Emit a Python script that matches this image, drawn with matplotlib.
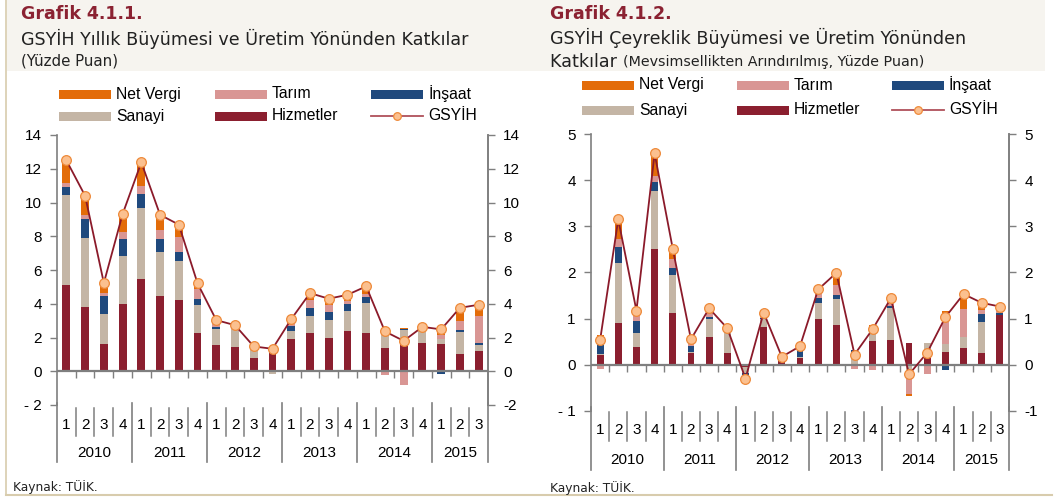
import matplotlib
matplotlib.use("Agg")
import matplotlib.pyplot as plt
import matplotlib.transforms as mtransforms
from matplotlib.patches import Rectangle
from matplotlib.lines import Line2D
import numpy as np

# ---------------- DATA ----------------
years = ["2010", "2011", "2012", "2013", "2014", "2015"]
quarters_per_year = [4, 4, 4, 4, 4, 3]
series_names = ["Hizmetler", "Sanayi", "İnşaat", "Tarım", "Net Vergi"]

# Grafik 4.1.1 (annual growth contributions)
hiz_L = [5.13, 3.78, 1.60, 3.96, 5.47, 4.46, 4.24, 2.26, 1.54, 1.41, 0.77, 1.09,
         1.94, 2.28, 2.00, 2.36, 2.26, 1.37, 1.62, 1.66, 1.60, 1.03, 1.19]
san_L = [5.29, 4.12, 1.79, 2.87, 4.19, 2.59, 2.27, 1.64, 0.94, 1.14, 0.46, -0.16,
         0.42, 0.99, 1.01, 1.24, 1.80, 0.89, 0.80, 0.95, 0.32, 1.31, 0.37]
ins_L = [0.51, 1.13, 1.09, 0.99, 0.87, 0.79, 0.56, 0.38, 0.13, 0.05, 0.03, 0.06,
         0.33, 0.47, 0.48, 0.40, 0.34, 0.22, 0.09, -0.06, -0.15, 0.10, 0.10]
tar_L = [0.24, 0.20, 0.13, 0.42, 0.44, 0.54, 0.89, 0.57, 0.26, 0.10, 0.24, 0.10,
         0.28, 0.46, 0.41, 0.16, 0.19, -0.22, -0.79, 0.05, 0.20, 0.53, 1.59]
nv_L = [1.40, 1.17, 0.68, 1.11, 1.49, 0.91, 0.79, 0.44, 0.22, 0.05, 0.07, 0.08,
        0.14, 0.47, 0.40, 0.43, 0.40, 0.06, 0.06, 0.05, 0.49, 0.67, 0.75]
gsyih_L = [12.50, 10.40, 5.23, 9.31, 12.38, 9.27, 8.69, 5.21, 3.03, 2.73, 1.47, 1.33,
           3.09, 4.63, 4.30, 4.53, 5.03, 2.36, 1.80, 2.63, 2.48, 3.76, 3.94]

# Grafik 4.1.2 (quarterly, seasonally adjusted)
hiz_R = [0.22, 0.90, 0.38, 2.51, 1.11, 0.26, 0.60, 0.26, -0.05, 0.82, 0.07, 0.14,
         1.00, 0.87, 0.02, 0.52, 0.53, 0.46, 0.26, 0.28, 0.37, 0.26, 1.08]
san_R = [0.02, 1.30, 0.31, 1.25, 0.83, 0.02, 0.40, 0.49, -0.12, 0.18, 0.04, 0.02,
         0.33, 0.55, 0.23, 0.20, 0.69, -0.25, 0.20, 0.16, 0.22, 0.66, -0.02]
ins_R = [0.28, 0.34, 0.26, 0.21, 0.15, 0.13, 0.03, 0.02, -0.07, 0.02, 0.03, 0.16,
         0.12, 0.10, 0.07, 0.05, 0.06, -0.05, 0.02, -0.12, 0.02, 0.17, 0.03]
tar_R = [-0.09, 0.19, 0.14, 0.13, 0.21, 0.12, 0.12, 0.06, -0.05, 0.05, 0.05, 0.06,
         0.11, 0.21, -0.10, -0.12, 0.12, -0.33, -0.20, 0.60, 0.60, 0.09, 0.11]
nv_R = [0.12, 0.41, 0.12, 0.50, 0.26, 0.03, 0.09, 0.00, 0.00, 0.10, 0.04, -0.03,
        0.11, 0.32, 0.00, 0.10, 0.04, -0.04, 0.00, 0.12, 0.36, 0.20, 0.04]
gsyih_R = [0.53, 3.15, 1.17, 4.58, 2.51, 0.55, 1.22, 0.79, -0.30, 1.13, 0.17, 0.40,
           1.63, 1.99, 0.22, 0.77, 1.44, -0.21, 0.26, 1.03, 1.53, 1.34, 1.26]

yticks_L = [-2, 0, 2, 4, 6, 8, 10, 12, 14]
yticks_R = [-1, 0, 1, 2, 3, 4, 5]

# ---------------- STYLE ----------------
C_HIZ = "#8b1f2f"
C_SAN = "#c4b5a5"
C_INS = "#1f497d"
C_TAR = "#d99694"
C_NV = "#e36c09"
C_LINE = "#8b1a2a"
C_GRID = "#7f7f7f"
TITLE_RED = "#8b2232"
colors = [C_HIZ, C_SAN, C_INS, C_TAR, C_NV]

W, H = 1056, 497
fig = plt.figure(figsize=(W / 100, H / 100), dpi=100)
fig.patch.set_facecolor("white")

TICKFONT = "Liberation Sans"
TITLEFONT = "DejaVu Sans"


def fx(px):
    return px / W


def fy(py):
    return 1 - py / H


# header and frame
fig.patches.append(Rectangle((fx(7), fy(71)), fx(1045) - fx(7), fy(0) - fy(71),
                             transform=fig.transFigure, facecolor="#f6f4ef",
                             edgecolor="none", zorder=0))
fig.lines.append(Line2D([fx(6), fx(6)], [fy(0), fy(495)], transform=fig.transFigure,
                        color="#d8ccad", lw=1.2))
fig.lines.append(Line2D([fx(6), fx(1052)], [fy(495), fy(495)], transform=fig.transFigure,
                        color="#d8ccad", lw=1.5))


def draw_panel(rect, series, gsyih, yticks, ylabels_left, ylabels_right, bar_w,
               qlab_y, year_y, sep_top, qsep_bot, ysep_bot):
    ax = fig.add_axes(rect)
    n = len(gsyih)
    x = np.arange(n)
    pos_bottom = np.zeros(n)
    neg_bottom = np.zeros(n)
    for vals, col in zip(series, colors):
        v = np.array(vals)
        pos = np.where(v > 0, v, 0)
        neg = np.where(v < 0, v, 0)
        ax.bar(x, pos, bottom=pos_bottom, width=bar_w, color=col, zorder=2, linewidth=0)
        ax.bar(x, neg, bottom=neg_bottom, width=bar_w, color=col, zorder=2, linewidth=0)
        pos_bottom += pos
        neg_bottom += neg
    ax.axhline(0, color=C_GRID, lw=1.6, zorder=3)
    ax.plot(x[:-1] + 0.5, np.zeros(n - 1), ls="none", marker=3, ms=5,
            color=C_GRID, mew=1.0, zorder=3)
    ax.plot(x, gsyih, color=C_LINE, lw=1.3, marker="o", ms=7,
            mfc="#fbc08f", mec="#ee8a3a", mew=0.9, zorder=5)

    ax.set_xlim(-0.5, n - 0.5)
    ax.set_ylim(yticks[0], yticks[-1])
    ax.set_xticks([])
    ax.set_yticks(yticks)
    ax.set_yticklabels(ylabels_left, fontfamily=TICKFONT, fontsize=11)
    ax.tick_params(axis="y", direction="out", length=5, width=1, color=C_GRID, pad=6)
    for s in ["top", "bottom"]:
        ax.spines[s].set_visible(False)
    for s in ["left", "right"]:
        ax.spines[s].set_color(C_GRID)
        ax.spines[s].set_linewidth(1.2)

    ax2 = ax.twinx()
    ax2.set_ylim(yticks[0], yticks[-1])
    ax2.set_yticks(yticks)
    ax2.set_yticklabels(ylabels_right, fontfamily=TICKFONT, fontsize=11)
    ax2.tick_params(axis="y", direction="out", length=5, width=1, color=C_GRID, pad=6)
    for s in ["top", "bottom", "left"]:
        ax2.spines[s].set_visible(False)
    ax2.spines["right"].set_color(C_GRID)
    ax2.spines["right"].set_linewidth(1.2)

    # category axis
    tr = mtransforms.blended_transform_factory(ax.transData, fig.transFigure)
    start = 0
    for yr, nq in zip(years, quarters_per_year):
        for q in range(nq):
            ax.text(start + q, fy(qlab_y), str(q + 1), transform=tr, ha="center",
                    va="center", fontsize=11, fontfamily=TICKFONT, clip_on=False)
            if q > 0:
                ax.add_line(Line2D([start + q - 0.5] * 2, [fy(sep_top), fy(qsep_bot)],
                                   transform=tr, color=C_GRID, lw=1.1, clip_on=False))
        ax.text(start + (nq - 1) / 2, fy(year_y), yr, transform=tr, ha="center",
                va="center", fontsize=11, fontfamily=TICKFONT, clip_on=False)
        ax.add_line(Line2D([start - 0.5] * 2, [fy(sep_top - 5), fy(ysep_bot)],
                           transform=tr, color=C_GRID, lw=1.2, clip_on=False))
        start += nq
    ax.add_line(Line2D([start - 0.5] * 2, [fy(sep_top - 5), fy(ysep_bot)],
                       transform=tr, color=C_GRID, lw=1.2, clip_on=False))
    return ax


def draw_legend(x_cols, y_rows, patch_w=52, patch_h=9):
    entries = [[("Net Vergi", C_NV), ("Tarım", C_TAR), ("İnşaat", C_INS)],
               [("Sanayi", C_SAN), ("Hizmetler", C_HIZ), ("GSYİH", None)]]
    for r, row in enumerate(entries):
        for c, (lab, col) in enumerate(row):
            x0 = x_cols[c]
            yc = y_rows[r]
            if col is not None:
                fig.patches.append(Rectangle((fx(x0), fy(yc + patch_h / 2)), fx(patch_w),
                                             patch_h / H, transform=fig.transFigure,
                                             facecolor=col, edgecolor="none"))
            else:
                fig.lines.append(Line2D([fx(x0), fx(x0 + patch_w)], [fy(yc), fy(yc)],
                                        transform=fig.transFigure, color="#b0505a", lw=1.3))
                fig.lines.append(Line2D([fx(x0 + patch_w / 2)], [fy(yc)],
                                        transform=fig.transFigure, ls="none", marker="o",
                                        ms=5.5, mfc="#fbc08f", mec="#ee8a3a", mew=0.9))
            fig.text(fx(x0 + patch_w + 5), fy(yc), lab, ha="left", va="center",
                     fontsize=11.3, fontfamily=TICKFONT)


# ---------------- LEFT PANEL ----------------
series_L = [hiz_L, san_L, ins_L, tar_L, nv_L]
rect_L = [fx(57), fy(405), fx(488) - fx(57), fy(135) - fy(405)]
lab_L_left = ["- 2" if t < 0 else str(t) for t in yticks_L]
lab_L_right = [str(t) for t in yticks_L]
draw_panel(rect_L, series_L, gsyih_L, yticks_L, lab_L_left, lab_L_right, 0.42,
           qlab_y=425, year_y=453, sep_top=408, qsep_bot=436, ysep_bot=462)

fig.text(fx(21), fy(14), "Grafik 4.1.1.", fontsize=12.5, fontweight="bold",
         color=TITLE_RED, ha="left", va="center", fontfamily=TITLEFONT)
fig.text(fx(21), fy(39), "GSYİH Yıllık Büyümesi ve Üretim Yönünden Katkılar",
         fontsize=12.6, ha="left", va="center", fontfamily=TITLEFONT, color="#222222")
fig.text(fx(21), fy(61), "(Yüzde Puan)", fontsize=10.8, ha="left", va="center",
         fontfamily=TITLEFONT, color="#222222")
draw_legend([59, 215, 371], [94, 116])
fig.text(fx(13), fy(487), "Kaynak: TÜİK.", fontsize=8.8, ha="left", va="center",
         fontfamily=TITLEFONT, color="#222222")

# ---------------- RIGHT PANEL ----------------
series_R = [hiz_R, san_R, ins_R, tar_R, nv_R]
rect_R = [fx(591), fy(410.8), fx(1009) - fx(591), fy(134) - fy(410.8)]
lab_R_left = ["- 1" if t < 0 else str(t) for t in yticks_R]
lab_R_right = [str(t) for t in yticks_R]
draw_panel(rect_R, series_R, gsyih_R, yticks_R, lab_R_left, lab_R_right, 0.38,
           qlab_y=430, year_y=460, sep_top=412, qsep_bot=441, ysep_bot=470)

fig.text(fx(550), fy(14), "Grafik 4.1.2.", fontsize=12.5, fontweight="bold",
         color=TITLE_RED, ha="left", va="center", fontfamily=TITLEFONT)
fig.text(fx(550), fy(38), "GSYİH Çeyreklik Büyümesi ve Üretim Yönünden",
         fontsize=12.6, ha="left", va="center", fontfamily=TITLEFONT, color="#222222")
t1 = fig.text(fx(550), fy(62), "Katkılar ", fontsize=12.6, ha="left", va="center",
              fontfamily=TITLEFONT, color="#222222")
fig.canvas.draw()
bb = t1.get_window_extent()
fig.text(bb.x1 / W, fy(62), "(Mevsimsellikten Arındırılmış, Yüzde Puan)", fontsize=10.3,
         ha="left", va="center", fontfamily=TITLEFONT, color="#222222")
draw_legend([582, 737, 892], [85, 110])
fig.text(fx(550), fy(488), "Kaynak: TÜİK.", fontsize=8.8, ha="left", va="center",
         fontfamily=TITLEFONT, color="#222222")

fig.savefig("out.png", dpi=100)
